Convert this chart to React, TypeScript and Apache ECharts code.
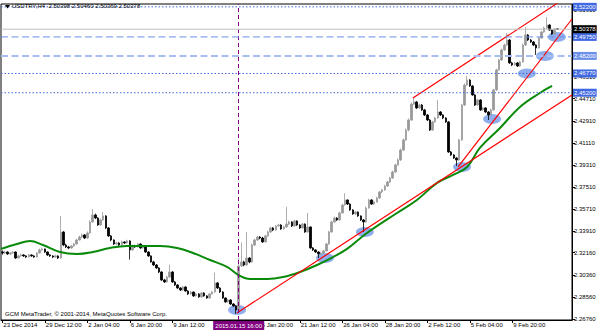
import React, { useEffect, useRef } from "react";
import * as echarts from "echarts";

// ---- data ----
const firstOpen = 2.3222;
const closes = [
  2.3214, 2.3222, 2.3206, 2.3214, 2.3222, 2.3173, 2.319, 2.3198, 2.319, 2.3181,
  2.3198, 2.319, 2.3181, 2.3214, 2.3239, 2.3247, 2.3222, 2.3198, 2.319, 2.3181,
  2.319, 2.3173, 2.3385, 2.3279, 2.3263, 2.3255, 2.3271, 2.3287, 2.332, 2.3344,
  2.3361, 2.3336, 2.3377, 2.3467, 2.3524, 2.3499, 2.3442, 2.3483, 2.3516, 2.3418,
  2.3353, 2.332, 2.3287, 2.3296, 2.3279, 2.3304, 2.3296, 2.3312, 2.3239, 2.3271,
  2.3263, 2.3287, 2.3255, 2.3271, 2.3222, 2.319, 2.3141, 2.3116, 2.3092, 2.3059,
  2.2994, 2.2978, 2.3018, 2.3059, 2.2978, 2.2953, 2.2929, 2.2912, 2.2937, 2.2904,
  2.288, 2.2896, 2.2864, 2.288, 2.2856, 2.2888, 2.2864, 2.2847, 2.288, 2.2896,
  2.297, 2.2929, 2.2896, 2.2847, 2.2815, 2.2831, 2.2798, 2.2782, 2.2749, 2.3108,
  2.3141, 2.3116, 2.3173, 2.3141, 2.3279, 2.332, 2.3344, 2.3336, 2.3304, 2.3353,
  2.3385, 2.3418, 2.3401, 2.3434, 2.3442, 2.341, 2.3426, 2.345, 2.3467, 2.3434,
  2.3475, 2.3442, 2.3418, 2.345, 2.3385, 2.3426, 2.3255, 2.3239, 2.3222, 2.3206,
  2.3214, 2.3231, 2.3287, 2.3385, 2.3467, 2.3499, 2.3483, 2.354, 2.3605, 2.3646,
  2.3613, 2.3565, 2.3532, 2.3548, 2.3516, 2.3483, 2.3467, 2.3581, 2.3646, 2.3613,
  2.363, 2.3662, 2.3711, 2.3728, 2.376, 2.3793, 2.3825, 2.3874, 2.3931, 2.3972,
  2.4053, 2.4135, 2.4216, 2.4298, 2.4428, 2.4445, 2.4396, 2.442, 2.438, 2.4339,
  2.4298, 2.4216, 2.4282, 2.4314, 2.4363, 2.4339, 2.4314, 2.4282, 2.4037, 2.4013,
  2.3988, 2.3972, 2.4135, 2.442, 2.4583, 2.4624, 2.4575, 2.4502, 2.442, 2.4461,
  2.438, 2.4396, 2.4363, 2.4339, 2.438, 2.4543, 2.4706, 2.4787, 2.4869, 2.4909,
  2.495, 2.4763, 2.4746, 2.4763, 2.4738, 2.4771, 2.4909, 2.4991, 2.495, 2.4934,
  2.4909, 2.4885, 2.4966, 2.5015, 2.5048, 2.5072, 2.5031, 2.4999, 2.504, 2.50378,
];
const highs = [
  2.3235, 2.3232, 2.3228, 2.3224, 2.323, 2.3226, 2.32, 2.3208, 2.3204, 2.3196,
  2.3206, 2.3203, 2.3195, 2.3222, 2.325, 2.3258, 2.325, 2.3226, 2.3205, 2.3196,
  2.32, 2.3195, 2.3516, 2.3392, 2.329, 2.3272, 2.328, 2.3296, 2.333, 2.3355,
  2.3372, 2.3368, 2.339, 2.348, 2.3573, 2.3535, 2.3505, 2.3495, 2.3548, 2.3522,
  2.3425, 2.336, 2.3325, 2.3306, 2.3302, 2.3315, 2.331, 2.3322, 2.3318, 2.3282,
  2.328, 2.3296, 2.3292, 2.3282, 2.3276, 2.3228, 2.3195, 2.315, 2.3124, 2.3098,
  2.3065, 2.3002, 2.3028, 2.312, 2.3066, 2.2986, 2.296, 2.2935, 2.2946, 2.2942,
  2.291, 2.2905, 2.29, 2.289, 2.2886, 2.2896, 2.2894, 2.287, 2.2888, 2.2905,
  2.3055, 2.2978, 2.2935, 2.2902, 2.2852, 2.284, 2.2836, 2.2805, 2.2788, 2.3173,
  2.33, 2.315, 2.3385, 2.318, 2.329, 2.333, 2.3355, 2.3352, 2.3345, 2.3362,
  2.3395, 2.3428, 2.3425, 2.3442, 2.3452, 2.3448, 2.3436, 2.359, 2.3478, 2.3472,
  2.3484, 2.348, 2.3448, 2.3458, 2.3455, 2.354, 2.343, 2.3262, 2.3245, 2.3228,
  2.3222, 2.324, 2.3296, 2.3395, 2.3478, 2.351, 2.3505, 2.355, 2.3615, 2.37,
  2.365, 2.362, 2.357, 2.3556, 2.3552, 2.352, 2.349, 2.3592, 2.3656, 2.3652,
  2.364, 2.3672, 2.372, 2.3738, 2.377, 2.3802, 2.3835, 2.3885, 2.3942, 2.3985,
  2.4065, 2.4148, 2.4228, 2.431, 2.444, 2.4477, 2.4452, 2.443, 2.4428, 2.4388,
  2.4345, 2.4305, 2.4292, 2.4324, 2.4461, 2.437, 2.4345, 2.432, 2.429, 2.4045,
  2.402, 2.3995, 2.4145, 2.443, 2.4595, 2.4657, 2.463, 2.4582, 2.451, 2.447,
  2.4468, 2.4405, 2.4402, 2.437, 2.439, 2.4553, 2.4716, 2.4797, 2.488, 2.492,
  2.5007, 2.4958, 2.4772, 2.4772, 2.477, 2.478, 2.492, 2.5056, 2.4998, 2.4958,
  2.494, 2.4915, 2.4976, 2.5025, 2.5058, 2.5137, 2.5078, 2.5036, 2.5045, 2.5046,
];
const lows = [
  2.32, 2.3205, 2.3198, 2.3198, 2.3208, 2.3165, 2.3168, 2.3185, 2.3182, 2.3174,
  2.3178, 2.3183, 2.3175, 2.3178, 2.321, 2.3232, 2.3215, 2.319, 2.3182, 2.3172,
  2.3175, 2.3165, 2.3168, 2.327, 2.3255, 2.3245, 2.325, 2.3265, 2.3282, 2.3315,
  2.3338, 2.3328, 2.333, 2.3372, 2.346, 2.349, 2.3435, 2.3436, 2.3478, 2.341,
  2.3345, 2.331, 2.328, 2.3278, 2.327, 2.3274, 2.3288, 2.329, 2.316, 2.3232,
  2.3255, 2.3258, 2.3248, 2.325, 2.3215, 2.3182, 2.3135, 2.3108, 2.3085, 2.305,
  2.2985, 2.297, 2.2972, 2.3012, 2.297, 2.2945, 2.292, 2.2905, 2.2906, 2.2898,
  2.2872, 2.2874, 2.2856, 2.2858, 2.2848, 2.285, 2.2858, 2.284, 2.2842, 2.2875,
  2.289, 2.292, 2.2888, 2.284, 2.2808, 2.281, 2.279, 2.2775, 2.2717, 2.2725,
  2.31, 2.3105, 2.311, 2.313, 2.3135, 2.327, 2.3312, 2.3325, 2.3296, 2.33,
  2.3345, 2.3378, 2.3392, 2.3395, 2.3428, 2.3402, 2.3405, 2.342, 2.344, 2.3426,
  2.343, 2.3435, 2.341, 2.3412, 2.3378, 2.338, 2.3248, 2.323, 2.3215, 2.3173,
  2.3198, 2.3205, 2.3225, 2.328, 2.338, 2.346, 2.3475, 2.3478, 2.3535, 2.36,
  2.3605, 2.3558, 2.3525, 2.3525, 2.3508, 2.3475, 2.3385, 2.346, 2.3575, 2.3605,
  2.3605, 2.3625, 2.3655, 2.3702, 2.372, 2.3752, 2.3785, 2.3818, 2.3868, 2.3925,
  2.3965, 2.4045, 2.4128, 2.4205, 2.429, 2.442, 2.4388, 2.439, 2.4372, 2.433,
  2.429, 2.4208, 2.421, 2.4275, 2.4308, 2.433, 2.4305, 2.4275, 2.403, 2.4005,
  2.398, 2.3923, 2.3965, 2.4128, 2.4412, 2.4575, 2.4568, 2.4495, 2.4412, 2.4415,
  2.4372, 2.4374, 2.4355, 2.4298, 2.4332, 2.4375, 2.4536, 2.47, 2.478, 2.4862,
  2.4902, 2.4755, 2.4738, 2.474, 2.473, 2.4732, 2.4765, 2.4902, 2.4942, 2.4926,
  2.49, 2.4828, 2.488, 2.496, 2.5008, 2.504, 2.5025, 2.4992, 2.4995, 2.50369,
];

// moving average (green) read as bar index / price pairs
const maIndex = [-0.5, 5.5, 10.4, 15.3, 21.7, 28.1, 34.1, 40.5, 46.9, 53, 59.4, 65.8, 71.8, 78.2, 84.6, 89.5, 93.3, 99.7, 105.7, 112.1, 118.5, 124.5, 129.8, 137.3, 148.6, 156.1, 163.7, 169.7, 175, 179.8, 187.4, 194.9, 202.4, 207];
const maValue = [2.3247, 2.3287, 2.3312, 2.3279, 2.3222, 2.3206, 2.3222, 2.3255, 2.3271, 2.3271, 2.3271, 2.3255, 2.3214, 2.3157, 2.31, 2.3027, 2.3002, 2.3002, 2.3018, 2.3059, 2.3116, 2.3181, 2.3247, 2.3377, 2.354, 2.3646, 2.3785, 2.385, 2.3915, 2.407, 2.4233, 2.4404, 2.4518, 2.4575];

// trend lines: [startIndex, startPrice, endIndex, endPrice]
const trendLines = [
  [154.6, 2.4477, 214.5, 2.5328],
  [88.35, 2.2725, 214.5, 2.4502],
  [171.6, 2.3915, 214.5, 2.5121],
];

// touch markers (ellipses)
const touchIndex = [88.4, 121.5, 136.5, 173.1, 184.4, 197.5, 204.3, 208.8];
const touchPrice = [2.275, 2.3173, 2.3385, 2.3915, 2.4306, 2.4677, 2.482, 2.4975];

// horizontal levels
const levelValues = [2.522, 2.50378, 2.4975, 2.482, 2.4677, 2.452];
const yTickValues = [2.2676, 2.2856, 2.3036, 2.3216, 2.3391, 2.3571, 2.3751, 2.3931, 2.4111, 2.4291, 2.4471, 2.4651, 2.4831, 2.5011, 2.5191];

const eventIndex = 89;
const eventLabel = "2015.01.15 16:00";
const titleText = "USDTRY,H4  2.50398 2.50460 2.50369 2.50378";
const copyrightText = "GCM MetaTrader, \u00a9 2001-2014, MetaQuotes Software Corp.";

const TOTAL_SLOTS = 215;
const MONTHS = ["Jan", "Feb", "Mar", "Apr", "May", "Jun", "Jul", "Aug", "Sep", "Oct", "Nov", "Dec"];
const HOLIDAYS = ["2014-12-25", "2015-01-01"];

function buildTimes(n: number): Date[] {
  const out: Date[] = [];
  let t = Date.UTC(2014, 11, 23, 20);
  while (out.length < n) {
    const d = new Date(t);
    const wd = d.getUTCDay();
    const key = d.toISOString().slice(0, 10);
    if (wd !== 0 && wd !== 6 && !HOLIDAYS.includes(key)) out.push(d);
    t += 4 * 3600 * 1000;
  }
  return out;
}
const pad = (n: number) => (n < 10 ? "0" + n : "" + n);

const FONT = "'Liberation Sans', Arial, sans-serif";

export default function App() {
  const ref = useRef<HTMLDivElement>(null);
  useEffect(() => {
    const el = ref.current;
    if (!el) return;
    const chart = echarts.init(el, null, { renderer: "svg", width: 600, height: 333 });

    const times = buildTimes(TOTAL_SLOTS);
    const cats = times.map(
      (d) => `${d.getUTCFullYear()}.${pad(d.getUTCMonth() + 1)}.${pad(d.getUTCDate())} ${pad(d.getUTCHours())}:00`
    );
    const labelFor = (i: number) => {
      const d = times[i];
      if (!d) return "";
      if (i === 0) return `${d.getUTCDate()} ${MONTHS[d.getUTCMonth()]} ${d.getUTCFullYear()}`;
      return `${d.getUTCDate()} ${MONTHS[d.getUTCMonth()]} ${pad(d.getUTCHours())}:00`;
    };
    const showIdx = (i: number) => i % 16 === 0 && i <= 192;

    const candleData = closes.map((c, i) => {
      const o = i === 0 ? firstOpen : closes[i - 1];
      return [o, c, lows[i], highs[i]];
    });

    const levelStyles = [
      { color: "#4169E1", type: [1.5, 2], width: 1, bg: "#4169E1", fg: "#fff", z: 5 },
      { color: "#C0C0C0", type: "solid", width: 1, bg: "#000000", fg: "#fff", z: 7 },
      { color: "#6F8FE8", type: [7, 3.5], width: 1, bg: "#4169E1", fg: "#fff", z: 6 },
      { color: "#A8BDF2", type: [7, 3.5], width: 2, bg: "#6C8FEA", fg: "#fff", z: 5 },
      { color: "#4169E1", type: [1.5, 2], width: 1, bg: "#4169E1", fg: "#fff", z: 5 },
      { color: "#4169E1", type: [1.5, 2], width: 1, bg: "#4169E1", fg: "#fff", z: 5 },
    ];

    const levelSeries = levelValues.map((v, k) => ({
      type: "line",
      xAxisIndex: 1,
      z: levelStyles[k].z,
      showSymbol: false,
      silent: true,
      clip: false,
      lineStyle: { color: levelStyles[k].color, type: levelStyles[k].type, width: levelStyles[k].width },
      data: [
        [-0.5, v],
        [TOTAL_SLOTS - 0.5, v],
      ],
      endLabel: {
        show: true,
        distance: 1,
        formatter: () => v.toFixed(5),
        backgroundColor: levelStyles[k].bg,
        color: levelStyles[k].fg,
        fontSize: 6,
        fontFamily: FONT,
        padding: [1.5, 1, 0.5, 1],
      },
    }));

    const option: any = {
      animation: false,
      backgroundColor: "#ffffff",
      textStyle: { fontFamily: FONT },
      grid: { left: 1, right: 28, top: 4, bottom: 13, show: true, borderColor: "#000", borderWidth: 1, backgroundColor: "transparent" },
      xAxis: [
        {
          type: "category",
          data: cats,
          boundaryGap: true,
          axisLine: { show: true, lineStyle: { color: "#000", width: 1 } },
          axisTick: { show: true, interval: (i: number) => showIdx(i), alignWithLabel: true, length: 3, lineStyle: { color: "#000" } },
          axisLabel: {
            show: true,
            interval: (i: number) => showIdx(i),
            formatter: (_v: string, i: number) => labelFor(i),
            align: "left",
            margin: 2,
            fontSize: 6,
            color: "#000",
            fontFamily: FONT,
            padding: [0, 0, 0, 1],
          },
          splitLine: { show: false },
        },
        { type: "value", show: false, min: -0.5, max: TOTAL_SLOTS - 0.5 },
      ],
      yAxis: {
        type: "value",
        position: "right",
        min: 2.26677,
        max: 2.52432,
        scale: true,
        axisLine: { show: true, onZero: false, lineStyle: { color: "#000", width: 1 } },
        axisTick: { show: true, length: 3, customValues: yTickValues, lineStyle: { color: "#000" } },
        axisLabel: {
          show: true,
          customValues: yTickValues,
          formatter: (v: number) => v.toFixed(5),
          fontSize: 6,
          color: "#000",
          margin: 2,
          fontFamily: FONT,
        },
        splitLine: { show: false },
      },
      series: [
        ...levelSeries,
        {
          type: "scatter",
          xAxisIndex: 1,
          z: 1,
          symbol: "circle",
          symbolSize: [18, 10],
          itemStyle: { color: "rgba(90,135,230,0.85)" },
          data: touchIndex.map((x, k) => [x, touchPrice[k]]),
          silent: true,
        },
        {
          type: "candlestick",
          xAxisIndex: 0,
          z: 2,
          barWidth: 2,
          itemStyle: { color: "#9A9A9A", color0: "#000000", borderColor: "#9A9A9A", borderColor0: "#000000", borderWidth: 0.8 },
          data: candleData,
          markLine: {
            symbol: ["none", "none"],
            silent: true,
            animation: false,
            data: [{ xAxis: cats[eventIndex], lineStyle: { color: "#800080", type: [4, 3], width: 1 }, label: { show: false } }],
          },
        },
        {
          type: "line",
          xAxisIndex: 1,
          z: 3,
          smooth: 0.4,
          showSymbol: false,
          lineStyle: { color: "#0A8A0A", width: 2 },
          data: maIndex.map((x, k) => [x, maValue[k]]),
        },
        ...trendLines.map((t) => ({
          type: "line",
          xAxisIndex: 1,
          z: 4,
          showSymbol: false,
          clip: true,
          lineStyle: { color: "#FF0000", width: 1.2 },
          data: [
            [t[0], t[1]],
            [t[2], t[3]],
          ],
        })),
      ],
      graphic: [
        { id: "tri", type: "polygon", z: 100, shape: { points: [[5, 5], [10, 5], [7.5, 8.5]] }, style: { fill: "#000" } },
        { id: "title", type: "text", z: 100, x: 12, y: 3, style: { text: titleText, fontSize: 6, fontFamily: FONT, fill: "#000" } },
        { id: "copy", type: "text", z: 100, x: 5, y: 311, style: { text: copyrightText, fontSize: 6, fontFamily: FONT, fill: "#000" } },
      ],
    };
    chart.setOption(option);

    const ex = chart.convertToPixel({ xAxisIndex: 1 }, eventIndex) as number;
    chart.setOption({
      graphic: [
        { id: "evbg", type: "rect", z: 110, shape: { x: ex - 25.5, y: 321, width: 51, height: 9 }, style: { fill: "#800080" } },
        {
          id: "evtx",
          type: "text",
          z: 111,
          x: ex,
          y: 325.5,
          style: { text: eventLabel, fontSize: 6, fontFamily: FONT, fill: "#fff", align: "center", verticalAlign: "middle" },
        },
      ],
    });

    return () => chart.dispose();
  }, []);
  return <div ref={ref} style={{ position: "fixed", left: 0, top: 0, width: 600, height: 333, background: "#fff" }} />;
}
